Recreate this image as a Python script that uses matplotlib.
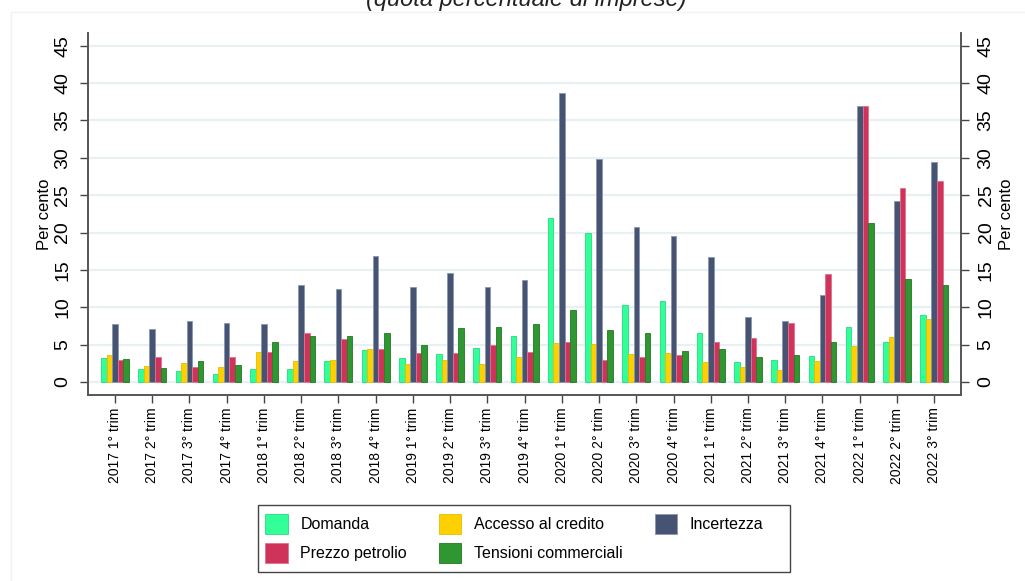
import numpy as np
import matplotlib
matplotlib.use("Agg")
import matplotlib.pyplot as plt
from matplotlib.lines import Line2D
from matplotlib.patches import Rectangle

plt.rcParams.update({
    "font.family": ["Liberation Sans", "DejaVu Sans"],
    "font.size": 10,
})

QUARTERS = [f"{y} {q}° trim" for y in range(2017, 2023) for q in range(1, 5)][:23]

domanda = [3.2, 1.7, 1.5, 1.1, 1.7, 1.7, 2.8, 4.3, 3.2, 3.7, 4.6, 6.2,
           22.0, 19.9, 10.25, 10.9, 6.5, 2.7, 3.0, 3.5, 7.3, 5.4, 9.0]
accesso = [3.6, 2.2, 2.5, 2.0, 4.0, 2.8, 2.9, 4.4, 2.4, 3.0, 2.45, 3.4,
           5.2, 5.1, 3.7, 3.9, 2.7, 2.0, 1.6, 2.85, 4.85, 6.0, 8.4]
incertezza = [7.8, 7.1, 8.1, 7.9, 7.8, 13.0, 12.5, 16.9, 12.7, 14.6, 12.7, 13.7,
              38.7, 29.8, 20.7, 19.5, 16.75, 8.7, 8.1, 11.6, 36.9, 24.2, 29.5]
petrolio = [2.9, 3.3, 2.0, 3.3, 4.0, 6.5, 5.75, 4.4, 3.9, 3.9, 5.0, 4.0,
            5.3, 2.9, 3.3, 3.6, 5.4, 5.9, 7.9, 14.4, 36.9, 26.0, 26.9]
tensioni = [3.1, 1.9, 2.8, 2.3, 5.35, 6.2, 6.15, 6.5, 5.0, 7.2, 7.4, 7.8,
            9.7, 6.9, 6.5, 4.1, 4.4, 3.3, 3.6, 5.3, 21.25, 13.8, 13.0]

# ordine delle barre nel gruppo
series = [
    ("Domanda", domanda, "#33ff99", "#22dd80"),
    ("Accesso al credito", accesso, "#ffd000", "#e8bc00"),
    ("Incertezza", incertezza, "#475372", "#8a96b0"),
    ("Prezzo petrolio", petrolio, "#cf335a", "#e07090"),
    ("Tensioni commerciali", tensioni, "#2f9632", "#1f7a22"),
]

W, H = 1025, 581
fig = plt.figure(figsize=(W / 100, H / 100), dpi=100)
ax = fig.add_axes([88 / W, 1 - 395 / H, (961 - 88) / W, (395 - 33) / H])

x = np.arange(len(QUARTERS))
w = 0.15
handles = {}
for k, (name, vals, col, edge) in enumerate(series):
    b = ax.bar(x + (k - 2) * w, vals, w, color=col, edgecolor=edge,
               linewidth=0.6, label=name, zorder=3)
    handles[name] = b

ax.set_xlim(-0.725, 22.72)
ax.set_ylim(-1.74, 46.7)
yt = np.arange(0, 50, 5)
ax.set_yticks(yt)
ax.set_yticklabels([str(v) for v in yt], rotation=90, va="center", fontsize=14)
for v in yt:
    ax.axhline(v, color="#e9f0f3", lw=1.6, zorder=1)
ax.set_xticks(x)
ax.set_xticklabels(QUARTERS, rotation=90, fontsize=10)
ax.tick_params(axis="x", length=6, width=1, color="#444444", pad=3)
ax.tick_params(axis="y", length=6, width=1, color="#444444", pad=6)
ax.set_ylabel("Per cento", fontsize=12, labelpad=2)
ax.spines["top"].set_visible(False)
for s in ["left", "right", "bottom"]:
    ax.spines[s].set_color("#555555")
    ax.spines[s].set_linewidth(1.2)

ax2 = ax.twinx()
ax2.set_ylim(ax.get_ylim())
ax2.set_yticks(yt)
ax2.set_yticklabels([str(v) for v in yt], rotation=90, va="center", fontsize=14)
ax2.tick_params(axis="y", length=6, width=1, color="#444444", pad=6)
ax2.set_ylabel("Per cento", fontsize=12, rotation=90, labelpad=3)
ax2.spines["top"].set_visible(False)
for s in ["left", "right", "bottom"]:
    ax2.spines[s].set_color("#555555")
    ax2.spines[s].set_linewidth(1.2)

# titolo tagliato in alto
fig.text(526 / W, 1 - 6 / H, "(quota percentuale di imprese)", ha="center",
         va="baseline", fontsize=17, style="italic", color="#222222")

# cornice esterna leggera
fig.add_artist(Line2D([11 / W, 1], [1 - 12 / H, 1 - 12 / H], color="#f0f2f4", lw=1))
fig.add_artist(Line2D([11 / W, 11 / W], [0, 1 - 12 / H], color="#f0f2f4", lw=1))

# legenda: cornice disegnata a parte
fig.add_artist(Rectangle((258 / W, 1 - 572 / H), (790 - 258) / W, (572 - 505) / H,
                         transform=fig.transFigure, fill=False,
                         edgecolor="#444444", lw=1.0))
order = ["Domanda", "Prezzo petrolio", "Accesso al credito",
         "Tensioni commerciali", "Incertezza"]
leg = fig.legend([handles[n] for n in order], order, ncol=3,
                 loc="upper left", bbox_to_anchor=(262 / W, 1 - 511 / H),
                 fontsize=11.5, frameon=False,
                 handlelength=1.4, handleheight=1.5, handletextpad=0.8,
                 columnspacing=2.0, borderpad=0.2, labelspacing=0.6,
                 borderaxespad=0)

fig.savefig("out.png", dpi=100)
